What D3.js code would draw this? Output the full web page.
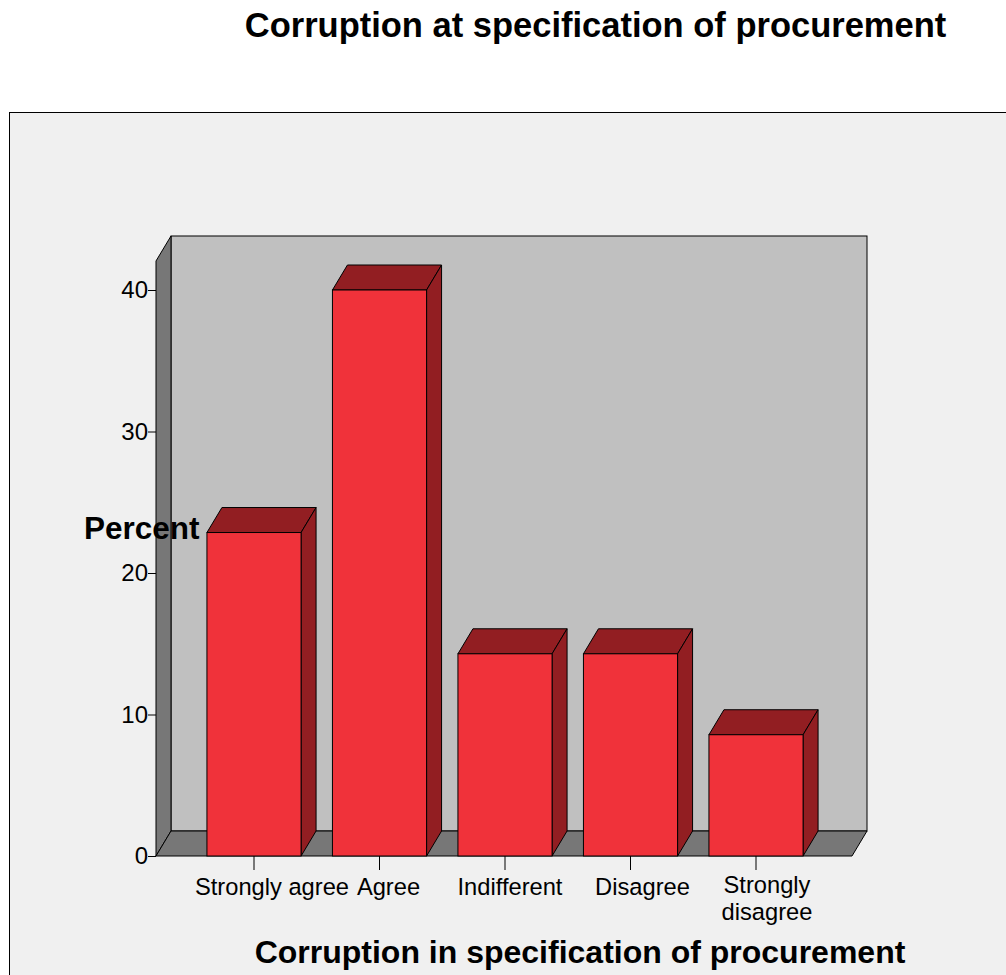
<!DOCTYPE html>
<html>
<head>
<meta charset="utf-8">
<script src="https://cdn.jsdelivr.net/npm/d3@7"></script>
<style>
  body { margin: 0; background: #fff; }
  svg { display: block; font-family: "Liberation Sans", Arial, sans-serif; }
</style>
</head>
<body>
<svg id="chart" width="1006" height="975"></svg>
<script>
var categories = ['Strongly agree', 'Agree', 'Indifferent', 'Disagree', 'Strongly disagree'];
var percents = [22.86, 40.0, 14.29, 14.29, 8.57];
var yTicks = [0, 10, 20, 30, 40];

var depthX = 15;
var depthY = -25;
var frontFill = '#f0323a';
var darkFill = '#921e22';
// SPSS nudges the category labels a little right of their ticks
var labelNudge = [18, 9, 5, 12, 11];

var svg = d3.select('#chart');

// outer frame
svg.append('rect')
    .attr('x', 9.5).attr('y', 112.5)
    .attr('width', 1010).attr('height', 880)
    .attr('fill', '#f0f0f0')
    .attr('stroke', '#000')
    .attr('stroke-width', 1);

var x = d3.scaleBand()
    .domain(categories)
    .range([191.25, 818.75])
    .paddingInner(0.25)
    .paddingOuter(0.125);

var y = d3.scaleLinear()
    .domain([0, 40])
    .range([856, 290]);

var left = 156, right = 852, wallTop = y(42.05);
var g = svg.append('g');

// back wall
g.append('rect')
    .attr('x', left + depthX).attr('y', wallTop + depthY)
    .attr('width', right - left).attr('height', y(0) - wallTop)
    .attr('fill', '#c0c0c0').attr('stroke', '#000');

// side wall
g.append('polygon')
    .attr('points', [[left, y(0)], [left, wallTop], [left + depthX, wallTop + depthY], [left + depthX, y(0) + depthY]].join(' '))
    .attr('fill', '#777').attr('stroke', '#000');

// floor
g.append('polygon')
    .attr('points', [[left, y(0)], [right, y(0)], [right + depthX, y(0) + depthY], [left + depthX, y(0) + depthY]].join(' '))
    .attr('fill', '#777').attr('stroke', '#000');

// bars
var bars = g.selectAll('.bar')
    .data(categories.map(function(c, i) { return {cat: c, v: percents[i]}; }))
    .enter().append('g').attr('class', 'bar');

bars.append('polygon')
    .attr('points', function(d) {
        var x0 = x(d.cat), x1 = x0 + x.bandwidth(), t = y(d.v);
        return [[x0, t], [x0 + depthX, t + depthY], [x1 + depthX, t + depthY], [x1, t]].join(' ');
    })
    .attr('fill', darkFill).attr('stroke', '#000');

bars.append('polygon')
    .attr('points', function(d) {
        var x1 = x(d.cat) + x.bandwidth(), t = y(d.v), b = y(0);
        return [[x1, t], [x1 + depthX, t + depthY], [x1 + depthX, b + depthY], [x1, b]].join(' ');
    })
    .attr('fill', darkFill).attr('stroke', '#000');

bars.append('rect')
    .attr('x', function(d) { return x(d.cat); })
    .attr('y', function(d) { return y(d.v); })
    .attr('width', x.bandwidth())
    .attr('height', function(d) { return y(0) - y(d.v); })
    .attr('fill', frontFill).attr('stroke', '#000');

// y axis
var yAxis = svg.append('g')
    .attr('transform', 'translate(' + left + ',0)')
    .call(d3.axisLeft(y).tickValues(yTicks).tickSize(8).tickPadding(0));
yAxis.select('.domain').remove();
yAxis.selectAll('text').attr('font-size', 24).attr('font-family', '"Liberation Sans", Arial, sans-serif').attr('fill', '#000');
yAxis.selectAll('line').attr('stroke', '#000');

// x axis
var xAxis = svg.append('g')
    .attr('transform', 'translate(0,' + y(0) + ')')
    .call(d3.axisBottom(x).tickSize(14).tickFormat(''));
xAxis.select('.domain').remove();
xAxis.selectAll('line').attr('stroke', '#000');

categories.forEach(function(c, k) {
    var lines = c === 'Strongly disagree' ? ['Strongly', 'disagree'] : [c];
    var cx = x(c) + x.bandwidth() / 2 + labelNudge[k];
    lines.forEach(function(l, i) {
        svg.append('text')
            .attr('x', cx)
            .attr('y', lines.length > 1 ? 893 + i * 27 : 895)
            .attr('text-anchor', 'middle')
            .attr('font-size', 23.7)
            .text(l);
    });
});

// titles
svg.append('text')
    .attr('x', 595.5).attr('y', 37)
    .attr('text-anchor', 'middle')
    .attr('font-size', 34.5).attr('font-weight', 'bold')
    .text('Corruption at specification of procurement');

svg.append('text')
    .attr('x', 580).attr('y', 963)
    .attr('text-anchor', 'middle')
    .attr('font-size', 32).attr('font-weight', 'bold')
    .text('Corruption in specification of procurement');

svg.append('text')
    .attr('x', 84).attr('y', 539)
    .attr('font-size', 31.5).attr('font-weight', 'bold')
    .text('Percent');
</script>
</body>
</html>
